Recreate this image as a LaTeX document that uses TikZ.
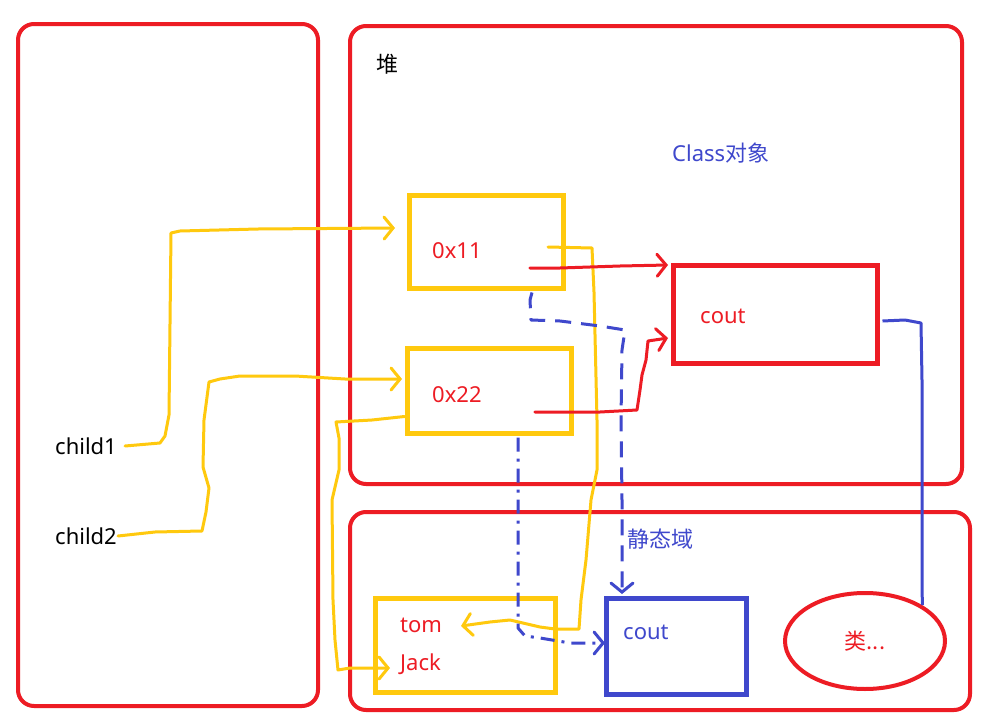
\documentclass[tikz,border=0pt]{standalone}
\usepackage{fontspec}
\setmainfont{Noto Sans}
\newfontfamily\cjk{Noto Sans CJK SC}
\usetikzlibrary{arrows.meta,shapes.geometric}
\definecolor{pred}{RGB}{237,28,36}
\definecolor{pblue}{RGB}{63,72,204}
\definecolor{pyellow}{RGB}{255,201,14}
\begin{document}
\begin{tikzpicture}[x=1pt,y=-1pt,
  font=\fontsize{22}{26}\selectfont,
  frame/.style={draw=pred,line width=4pt,rounded corners=16pt},
  ybox/.style={draw=pyellow,line width=5pt,inner sep=0pt},
  rbox/.style={draw=pred,line width=5pt,inner sep=0pt},
  bbox/.style={draw=pblue,line width=5pt,inner sep=0pt},
  lbl/.style={anchor=west,inner sep=0pt},
  tip/.style={-{Straight Barb[length=9pt,width=22pt,line cap=round]}},
  yline/.style={draw=pyellow,line width=3pt,line join=round,line cap=round},
  rline/.style={draw=pred,line width=3pt,line join=round,line cap=round},
  bline/.style={draw=pblue,line width=3pt,line join=round},
  bdash/.style={bline,dash pattern=on 16pt off 10pt},
  bdashdot/.style={bline,dash pattern=on 14pt off 7pt on 3pt off 7pt}]
\useasboundingbox (0,0) rectangle (986,728);
\fill[white] (0,0) rectangle (986,728);

% memory areas
\draw[frame] (18,24) rectangle (318,706);
\draw[frame] (350,26) rectangle (962,484);
\draw[frame] (350,512) rectangle (970,710);

% area titles
\node[lbl] (heap) at (376,64) {\cjk 堆};
\node[lbl,text=pblue] (clsobj) at (672,153) {Class\cjk 对象};
\node[lbl,text=pblue] (static) at (627,539) {\cjk 静态域};

% references on the stack
\node[lbl] (child1) at (55,446) {child1};
\node[lbl] (child2) at (55,536) {child2};

% objects in the heap
\node[ybox,minimum width=154pt,minimum height=93pt] (b11) at (486,241.5) {};
\node[lbl,text=pred] (t11) at (432,251) {0x11};
\node[ybox,minimum width=164pt,minimum height=85pt] (b22) at (489,390.5) {};
\node[lbl,text=pred] (t22) at (432,395) {0x22};
\node[rbox,minimum width=204pt,minimum height=98pt] (rc) at (775,314) {};
\node[lbl,text=pred] (trc) at (700,316) {cout};

% static area contents
\node[ybox,minimum width=180pt,minimum height=94pt] (names) at (465,645) {};
\node[lbl,text=pred] (tom) at (400,625) {tom};
\node[lbl,text=pred] (jack) at (400,664) {Jack};
\node[bbox,minimum width=140pt,minimum height=96pt] (bc) at (676,646) {};
\node[lbl,text=pblue] (tbc) at (623,632) {cout};
\node[ellipse,draw=pred,line width=4pt,minimum width=160pt,minimum height=96pt,inner sep=0pt,text=pred] (cls) at (865,641) {\cjk 类...};

% arrow tips
\coordinate (a1) at (395,228);
\coordinate (a2) at (402,379);
\coordinate (a3) at (390,668);
\coordinate (a4) at (461,626);
\coordinate (a5) at (668,265);
\coordinate (a6) at (668,338);
\coordinate (a7) at (622,594);
\coordinate (a8) at (605,643);

% child1 -> 0x11
\draw[yline,tip] (child1.east) ++(8,0) -- (160,443) -- (165,436) -- (169,415) -- (171,233)
  -- (180,231) -- (258,229) -- (a1);
% child2 -> 0x22
\draw[yline,tip] (child2.east) ++(1,0) -- (155,532) -- (202,531) -- (206,512) -- (209,488)
  -- (203,467) -- (204,420) -- (209,382) -- (220,379) -- (240,376) -- (295,376)
  -- (345,379) -- (a2);
% 0x22 -> Jack
\draw[yline,tip] (b22.west) ++(0,26) -- (372,420) -- (336,422) -- (339,438) -- (339,470)
  -- (332,500) -- (333,600) -- (335,640) -- (338,670) -- (350,668) -- (a3);
% 0x11 -> tom
\draw[yline,tip] (548,247) -- (592,248) -- (594,292) -- (597,420) -- (597,470) -- (591,500)
  -- (586,560) -- (581,600) -- (579,629) -- (555,629) -- (540,627) -- (510,620)
  -- (490,622) -- (a4);
% 0x11 -> cout (class object)
\draw[rline,tip] (t11.east) ++(48,17) -- (560,268) -- (620,266) -- (a5);
% 0x22 -> cout (class object)
\draw[rline,tip] (t22.east) ++(53,17) -- (560,412) -- (600,412) -- (637,410) -- (640,390)
  -- (642,375) -- (646,360) -- (648,341) -- (a6);
% 0x11 -> static cout
\draw[bdash,tip] (b11.south) ++(46,2) -- (530,300) -- (531,320) -- (560,321) -- (600,326)
  -- (625,330) -- (622,350) -- (621,420) -- (622,500) -- (a7);
% 0x22 -> static cout
\draw[bdashdot,tip] (b22.south) ++(29,2) -- (518,628) -- (525,636) -- (540,638)
  -- (570,643) -- (a8);
% class object cout -> class
\draw[bline] (rc.east) ++(3,7) -- (905,320) -- (921,323) -- (922,380) -- (922,520)
  -- (cls.32);
\end{tikzpicture}
\end{document}
